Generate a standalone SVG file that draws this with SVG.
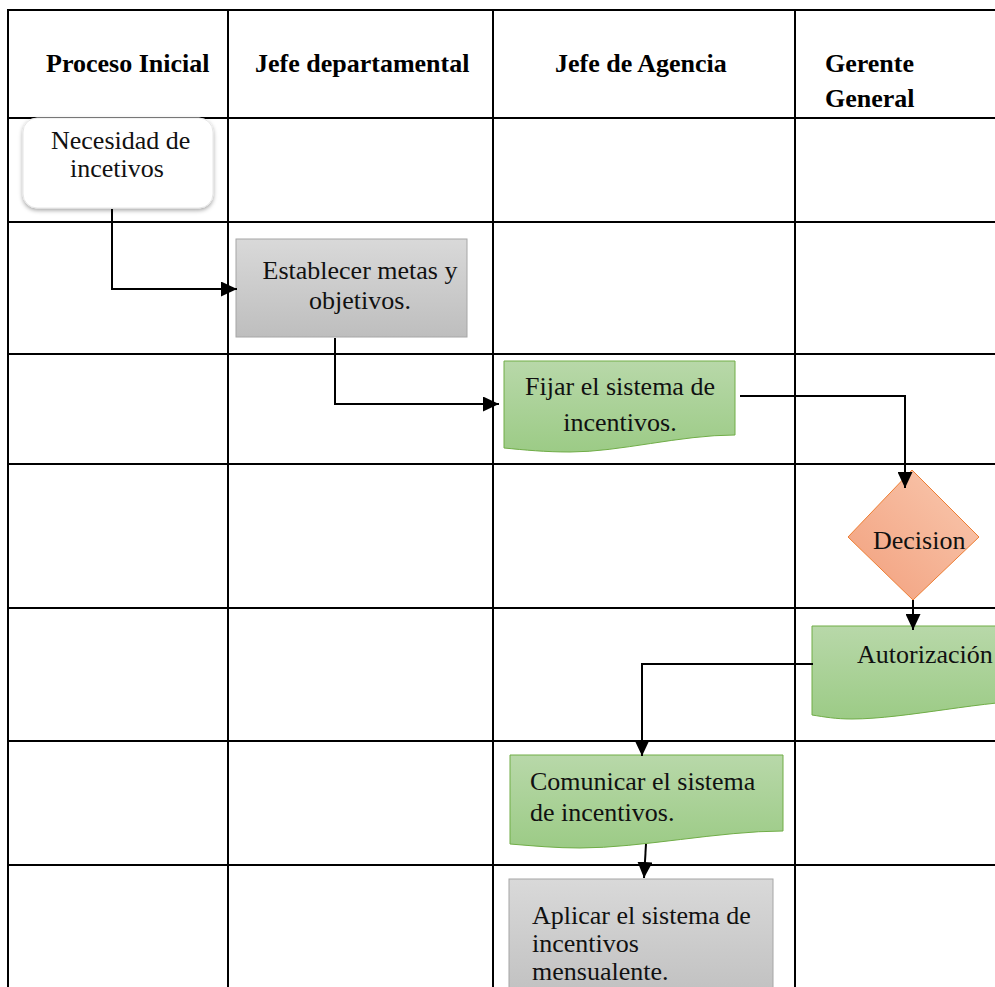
<svg xmlns="http://www.w3.org/2000/svg" width="995" height="987" viewBox="0 0 995 987">
  <defs>
    <style>
      .grid line { stroke: #000; stroke-width: 2; }
      .hdr { font-family: "Liberation Serif", "Times New Roman", serif; font-weight: bold; font-size: 26px; fill: #000; }
      .lbl { font-family: "Liberation Serif", "Times New Roman", serif; font-size: 26px; fill: #111; }
      .doc { fill: url(#greenFill); stroke: #70ad47; stroke-width: 1; }
      .proc { fill: url(#grayFill); stroke: #a6a6a6; stroke-width: 1; }
      .edges path { fill: none; stroke: #000; stroke-width: 2; marker-end: url(#arrow); }
    </style>
    <linearGradient id="greenFill" x1="0" y1="0" x2="0" y2="1">
      <stop offset="0" stop-color="#b8d8a9"/>
      <stop offset="1" stop-color="#9ccb86"/>
    </linearGradient>
    <linearGradient id="grayFill" x1="0" y1="0" x2="0" y2="1">
      <stop offset="0" stop-color="#d9d9d9"/>
      <stop offset="1" stop-color="#bebebe"/>
    </linearGradient>
    <linearGradient id="orangeFill" x1="1" y1="0" x2="0" y2="1">
      <stop offset="0" stop-color="#f9c9b0"/>
      <stop offset="1" stop-color="#f29f7c"/>
    </linearGradient>
    <filter id="softShadow" x="-10%" y="-10%" width="120%" height="130%">
      <feDropShadow dx="0" dy="2" stdDeviation="2" flood-color="#000" flood-opacity="0.35"/>
    </filter>
    <marker id="arrow" viewBox="0 0 10 10" refX="10" refY="5" markerWidth="16" markerHeight="15" markerUnits="userSpaceOnUse" orient="auto" preserveAspectRatio="none">
      <path d="M0,0 L10,5 L0,10 Z" fill="#000"/>
    </marker>
  </defs>

  <rect width="995" height="987" fill="#fff"/>

  <!-- swimlane table -->
  <g class="grid" id="table">
    <line x1="8" y1="10" x2="995" y2="10"/>
    <line x1="8" y1="118" x2="995" y2="118"/>
    <line x1="8" y1="222" x2="995" y2="222"/>
    <line x1="8" y1="354" x2="995" y2="354"/>
    <line x1="8" y1="464" x2="995" y2="464"/>
    <line x1="8" y1="608" x2="995" y2="608"/>
    <line x1="8" y1="741" x2="995" y2="741"/>
    <line x1="8" y1="865" x2="995" y2="865"/>
    <line x1="8" y1="9" x2="8" y2="987"/>
    <line x1="228" y1="9" x2="228" y2="987"/>
    <line x1="493" y1="9" x2="493" y2="987"/>
    <line x1="795" y1="9" x2="795" y2="987"/>
  </g>

  <!-- lane headers -->
  <g id="headers">
    <text class="hdr" x="46" y="72">Proceso Inicial</text>
    <text class="hdr" x="255" y="72">Jefe departamental</text>
    <text class="hdr" x="555" y="72">Jefe de Agencia</text>
    <text class="hdr" x="825" y="72">Gerente</text>
    <text class="hdr" x="825" y="107">General</text>
  </g>

  <!-- nodes -->
  <g id="node-necesidad">
    <rect x="23" y="118" width="190" height="90" rx="14" fill="#fff" stroke="#e6e6e6" stroke-width="1" filter="url(#softShadow)"/>
    <text class="lbl" x="51" y="149">Necesidad de</text>
    <text class="lbl" x="70" y="177">incetivos</text>
  </g>

  <g id="node-establecer">
    <rect class="proc" x="236" y="239" width="231" height="98"/>
    <text class="lbl" x="360" y="279" text-anchor="middle">Establecer metas y</text>
    <text class="lbl" x="360" y="309" text-anchor="middle">objetivos.</text>
  </g>

  <g id="node-fijar">
    <path class="doc" d="M504,361 L735,361 L735,435 C680,435 620,452 570,452 C545,452 525,450 504,448 Z"/>
    <text class="lbl" x="620" y="395" text-anchor="middle">Fijar el sistema de</text>
    <text class="lbl" x="620" y="431" text-anchor="middle">incentivos.</text>
  </g>

  <g id="node-decision">
    <polygon points="912,470 979,537 913,600 848,537" fill="url(#orangeFill)" stroke="#ed7d31" stroke-width="1"/>
    <text class="lbl" x="873" y="549">Decision</text>
  </g>

  <g id="node-autorizacion">
    <path class="doc" d="M812,626 L1045,626 L1045,700 C985,700 905,719 852,719 C835,719 825,717 812,715 Z"/>
    <text class="lbl" x="857" y="663">Autorización</text>
  </g>

  <g id="node-comunicar">
    <path class="doc" d="M510,755 L783,755 L783,831 C720,831 640,848 580,848 C555,848 535,846 510,844 Z"/>
    <text class="lbl" x="530" y="790">Comunicar el sistema</text>
    <text class="lbl" x="530" y="821">de incentivos.</text>
  </g>

  <g id="node-aplicar">
    <rect class="proc" x="509" y="879" width="264" height="130"/>
    <text class="lbl" x="532" y="924">Aplicar el sistema de</text>
    <text class="lbl" x="532" y="952">incentivos</text>
    <text class="lbl" x="532" y="980">mensualente.</text>
  </g>

  <!-- connectors -->
  <g class="edges" id="connectors">
    <path d="M112,209 V289 H237"/>
    <path d="M335,338 V404 H499"/>
    <path d="M740,396 H905 V488"/>
    <path d="M913,600 V630"/>
    <path d="M813,664 H642 V756"/>
    <path d="M646,844 L644,878"/>
  </g>
</svg>
